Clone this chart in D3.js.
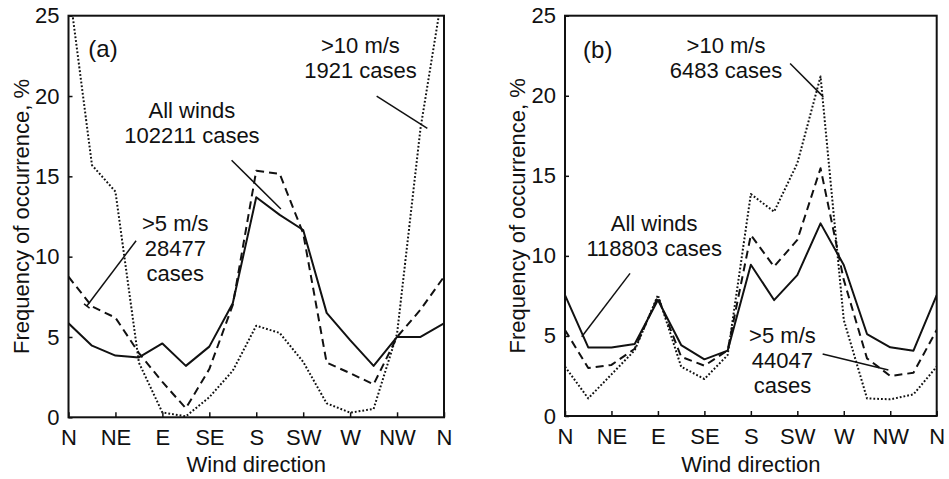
<!DOCTYPE html>
<html>
<head>
<meta charset="utf-8">
<script src="https://cdn.jsdelivr.net/npm/d3@7"></script>
<style>
  body { margin: 0; background: #fff; }
  svg { display: block; }
  text { font-family: "Liberation Sans", Arial, sans-serif; fill: #111; }
</style>
</head>
<body>
<svg id="chart"></svg>
<script>
const WIDTH = 949;
const HEIGHT = 479;

// 16 compass points, N repeated at the end
const directions = ["N","NNE","NE","ENE","E","ESE","SE","SSE","S","SSW","SW","WSW","W","WNW","NW","NNW","N"];
const tickLabels = ["N","NE","E","SE","S","SW","W","NW","N"];
const yTicks = [0, 5, 10, 15, 20, 25];

// panel (a)
const aAllWinds = [5.85,4.46,3.84,3.73,4.6,3.2,4.4,7.1,13.7,12.6,11.66,6.5,4.8,3.2,5.0,5.0,5.85];
const aOver5    = [8.75,6.9,6.2,4.0,2.2,0.56,3.0,7.0,15.35,15.15,11.45,3.4,2.75,2.05,5.0,6.7,8.75];
const aOver10   = [27,15.7,14.05,3.4,0.3,0.06,1.25,2.9,5.7,5.25,3.45,0.87,0.29,0.52,5.2,18.0,27];

// panel (b)
const bAllWinds = [7.55,4.28,4.28,4.5,7.24,4.43,3.54,4.08,9.45,7.24,8.8,12.03,9.43,5.12,4.29,4.08,7.55];
const bOver5    = [5.37,3.0,3.19,4.2,7.45,3.7,3.14,4.1,11.3,9.33,11.0,15.47,8.5,3.6,2.5,2.7,5.37];
const bOver10   = [3.08,1.1,2.6,4.1,7.55,3.08,2.31,3.8,13.86,12.76,15.78,21.2,6.0,1.1,1.04,1.35,3.08];

// annotations, anchored in data units (x = direction index, y = %)
const aNotes = [
  { x: 1.47, y: 22.45, lines: ["(a)"], size: 24 },
  { x: 5.26, y: 18.62, lines: ["All winds", "102211 cases"] },
  { x: 12.44, y: 22.67, lines: [">10 m/s", "1921 cases"] },
  { x: 4.55, y: 11.61, lines: [">5 m/s", "28477", "cases"] }
];
const aLeaders = [
  { from: [6.95, 16.0], to: [9.05, 12.97] },
  { from: [13.13, 20.0], to: [15.29, 17.98] },
  { from: [2.88, 10.99], to: [0.78, 6.93], cap: true }
];
const bNotes = [
  { x: 1.41, y: 22.35, lines: ["(b)"], size: 24 },
  { x: 6.93, y: 22.65, lines: [">10 m/s", "6483 cases"] },
  { x: 3.84, y: 11.56, lines: ["All winds", "118803 cases"] },
  { x: 9.36, y: 4.54, lines: [">5 m/s", "44047", "cases"] }
];
const bLeaders = [
  { from: [9.69, 22.02], to: [11.12, 19.93] },
  { from: [2.80, 8.91], to: [0.72, 4.95] },
  { from: [11.09, 3.87], to: [13.92, 2.87] }
];

const svg = d3.select("#chart").attr("width", WIDTH).attr("height", HEIGHT);

function drawPanel(id, box, series, notes, leaders) {
  const x = d3.scaleLinear().domain([0, directions.length - 1]).range([box.left, box.right]);
  const y = d3.scaleLinear().domain([0, 25]).range([box.bottom, box.top]);
  const g = svg.append("g");

  g.append("clipPath").attr("id", "clip-" + id)
    .append("rect")
    .attr("x", box.left).attr("y", box.top)
    .attr("width", box.right - box.left).attr("height", box.bottom - box.top);

  const line = d3.line().x((d, i) => x(i)).y(d => y(d));
  const plot = g.append("g").attr("clip-path", "url(#clip-" + id + ")");
  series.forEach(s => {
    plot.append("path").datum(s.values)
      .attr("d", line)
      .attr("fill", "none").attr("stroke", "#111")
      .attr("stroke-width", s.width)
      .attr("stroke-dasharray", s.dash)
      .attr("stroke-linejoin", "round");
  });

  // frame
  g.append("rect")
    .attr("x", box.left).attr("y", box.top)
    .attr("width", box.right - box.left).attr("height", box.bottom - box.top)
    .attr("fill", "none").attr("stroke", "#111").attr("stroke-width", 2);

  // x axis, ticks inward
  const xAxis = d3.axisBottom(x)
    .tickValues(d3.range(0, directions.length, 2))
    .tickFormat((d, i) => tickLabels[i])
    .tickSizeInner(-5).tickSizeOuter(0).tickPadding(14);
  const gx = g.append("g").attr("transform", `translate(0,${box.bottom})`).call(xAxis);
  gx.select(".domain").remove();
  gx.selectAll("line").attr("stroke", "#111").attr("stroke-width", 1.5);
  gx.selectAll("text").attr("font-size", 22).attr("fill", "#111")
    .attr("dy", 0).attr("y", 28);

  const yAxis = d3.axisLeft(y)
    .tickValues(yTicks)
    .tickSizeInner(-4).tickSizeOuter(0).tickPadding(9);
  const gy = g.append("g").attr("transform", `translate(${box.left},0)`).call(yAxis);
  gy.select(".domain").remove();
  gy.selectAll("line").attr("stroke", "#111").attr("stroke-width", 1.5);
  gy.selectAll("text").attr("font-size", 22).attr("fill", "#111");

  // axis titles
  g.append("text")
    .attr("x", (box.left + box.right) / 2).attr("y", 472)
    .attr("text-anchor", "middle").attr("font-size", 22)
    .text("Wind direction");
  g.append("text")
    .attr("transform", `translate(${box.left - 40},${(box.top + box.bottom) / 2}) rotate(-90)`)
    .attr("text-anchor", "middle").attr("font-size", 22)
    .text("Frequency of occurrence, %");

  // annotation text
  notes.forEach(n => {
    const t = g.append("text")
      .attr("x", x(n.x)).attr("y", y(n.y))
      .attr("text-anchor", "middle").attr("font-size", n.size || 22);
    n.lines.forEach((l, i) => {
      t.append("tspan").attr("x", x(n.x)).attr("dy", i === 0 ? 0 : 25).text(l);
    });
  });

  // leader lines
  leaders.forEach(l => {
    const x0 = x(l.from[0]), y0 = y(l.from[1]);
    const x1 = x(l.to[0]), y1 = y(l.to[1]);
    g.append("line")
      .attr("x1", x0).attr("y1", y0).attr("x2", x1).attr("y2", y1)
      .attr("stroke", "#111").attr("stroke-width", 1.5);
    if (l.cap) {
      const len = Math.hypot(x1 - x0, y1 - y0);
      const px = -(y1 - y0) / len * 3.5, py = (x1 - x0) / len * 3.5;
      g.append("line")
        .attr("x1", x1 - px).attr("y1", y1 - py)
        .attr("x2", x1 + px).attr("y2", y1 + py)
        .attr("stroke", "#111").attr("stroke-width", 1.5);
    }
  });
}

const styles = {
  all: { width: 2, dash: null },
  over5: { width: 2, dash: "8,5" },
  over10: { width: 2, dash: "1.8,2" }
};

drawPanel("a", { left: 68.5, right: 444, top: 15.7, bottom: 417.3 }, [
  { values: aAllWinds, ...styles.all },
  { values: aOver5, ...styles.over5 },
  { values: aOver10, ...styles.over10 }
], aNotes, aLeaders);

drawPanel("b", { left: 565, right: 936.7, top: 15.7, bottom: 416 }, [
  { values: bAllWinds, ...styles.all },
  { values: bOver5, ...styles.over5 },
  { values: bOver10, ...styles.over10 }
], bNotes, bLeaders);
</script>
</body>
</html>
